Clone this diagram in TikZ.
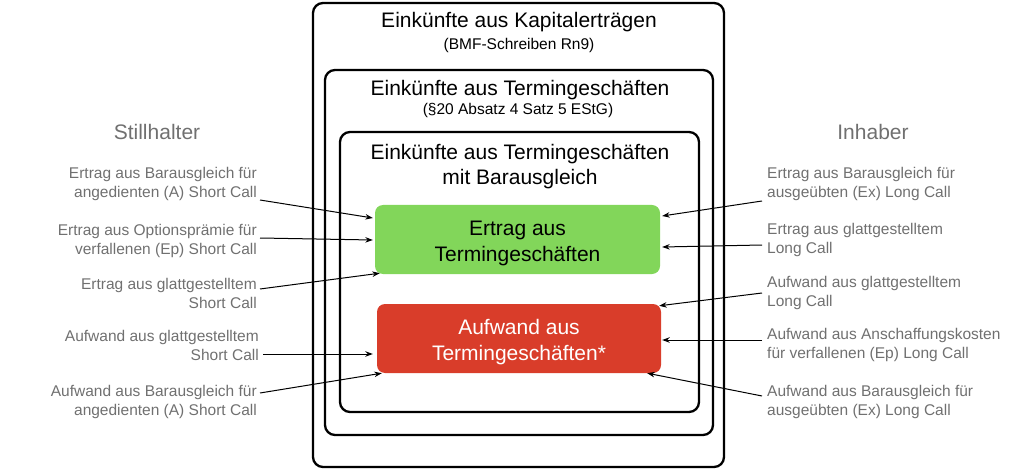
\documentclass[tikz,border=0pt]{standalone}
\usepackage{fontspec}
\setmainfont{Liberation Sans}
\usetikzlibrary{arrows.meta}
\definecolor{ergreen}{RGB}{130,214,90}
\definecolor{aufred}{RGB}{217,61,42}
\definecolor{labgray}{RGB}{112,112,112}
\begin{document}
\begin{tikzpicture}[x=1pt,y=-1pt,
 frame/.style={draw=black, line width=2.3pt, rounded corners=10pt, inner sep=0pt},
 title/.style={font=\fontsize{21}{25}\selectfont, align=center, inner sep=0pt},
 sub/.style={font=\fontsize{15.5}{18}\selectfont, inner sep=0pt},
 side/.style={font=\fontsize{15.5}{19}\selectfont, text=labgray, inner sep=0pt},
 lside/.style={side, align=right, anchor=east},
 rside/.style={side, align=left, anchor=west},
 head/.style={font=\fontsize{21}{25}\selectfont, text=labgray, inner sep=0pt},
 resbox/.style={rounded corners=8pt, minimum width=285pt, minimum height=69pt, inner sep=0pt},
 restext/.style={align=center, inner sep=0pt, font=\fontsize{21}{26}\selectfont},
 conn/.style={-{Stealth[length=7.5pt,width=5.5pt]}, line width=1pt}
]
\useasboundingbox (0,0) rectangle (1024,470);
% frames
\node[frame, minimum width=411pt, minimum height=464pt] (outer) at (518.5,235) {};
\node[frame, minimum width=388pt, minimum height=365pt] (middle) at (519,252.5) {};
\node[frame, minimum width=359pt, minimum height=280pt] (inner) at (519.5,272) {};
% titles
\node[title] (t1) at (519,22) {Einkünfte aus Kapitalerträgen};
\node[sub] (s1) at (519,45.5) {(BMF-Schreiben Rn9)};
\node[title] (t2) at (520,90) {Einkünfte aus Termingeschäften};
\node[sub] (s2) at (518,110.5) {(§20 Absatz 4 Satz 5 EStG)};
\node[title] (t3) at (520,166.5) {Einkünfte aus Termingeschäften\\mit Barausgleich};
% result boxes
\node[resbox, fill=ergreen] (green) at (517.5,239.5) {};
\node[restext] (gtext) at (517.5,243) {Ertrag aus\\Termingeschäften};
\node[resbox, fill=aufred, minimum width=284pt] (red) at (519,338.5) {};
\node[restext, text=white] (rtext) at (519,342) {Aufwand aus\\Termingeschäften*};
% headings
\node[head] (still) at (157,132) {Stillhalter};
\node[head] (inh) at (873,132) {Inhaber};
% left labels
\node[lside] (l1) at (257,183.5) {Ertrag aus Barausgleich für\\angedienten (A) Short Call};
\node[lside] (l2) at (257,240.5) {Ertrag aus Optionsprämie für\\verfallenen (Ep) Short Call};
\node[lside] (l3) at (257,293) {Ertrag aus glattgestelltem\\Short Call};
\node[lside] (l4) at (259,345) {Aufwand aus glattgestelltem\\Short Call};
\node[lside] (l5) at (257,402) {Aufwand aus Barausgleich für\\angedienten (A) Short Call};
% right labels
\node[rside] (r1) at (767,183.5) {Ertrag aus Barausgleich für\\ausgeübten (Ex) Long Call};
\node[rside] (r2) at (767,240) {Ertrag aus glattgestelltem\\Long Call};
\node[rside] (r3) at (767,293) {Aufwand aus glattgestelltem\\Long Call};
\node[rside] (r4) at (767,345) {Aufwand aus Anschaffungskosten\\für verfallenen (Ep) Long Call};
\node[rside] (r5) at (767,402) {Aufwand aus Barausgleich für\\ausgeübten (Ex) Long Call};
% connectors left
\draw[conn] ([xshift=3pt,yshift=-16.5pt]l1.east) -- ([xshift=-2pt,yshift=21.5pt]green.west);
\draw[conn] ([xshift=3pt,yshift=2.5pt]l2.east) -- ([xshift=-2pt,yshift=-0.5pt]green.west);
\draw[conn] ([xshift=3pt,yshift=4pt]l3.east) -- ([xshift=5pt,yshift=1pt]green.south west);
\draw[conn] ([xshift=4pt,yshift=-9pt]l4.east) -- ([xshift=-4pt,yshift=-15.5pt]red.west);
\draw[conn] ([xshift=3pt,yshift=9pt]l5.east) -- ([xshift=5pt]red.south west);
% connectors right
\draw[conn] ([xshift=-5pt,yshift=-17.5pt]r1.west) -- ([xshift=2pt,yshift=23.5pt]green.east);
\draw[conn] ([xshift=-5pt,yshift=-5pt]r2.west) -- ([xshift=2pt,yshift=-7.5pt]green.east);
\draw[conn] ([xshift=-5pt,yshift=0pt]r3.west) -- ([xshift=-2pt,yshift=-2pt]red.north east);
\draw[conn] ([xshift=-5pt,yshift=5pt]r4.west) -- ([xshift=1pt,yshift=-1.5pt]red.east);
\draw[conn] ([xshift=-5pt,yshift=6pt]r5.west) -- ([xshift=-14pt]red.south east);
\end{tikzpicture}
\end{document}
